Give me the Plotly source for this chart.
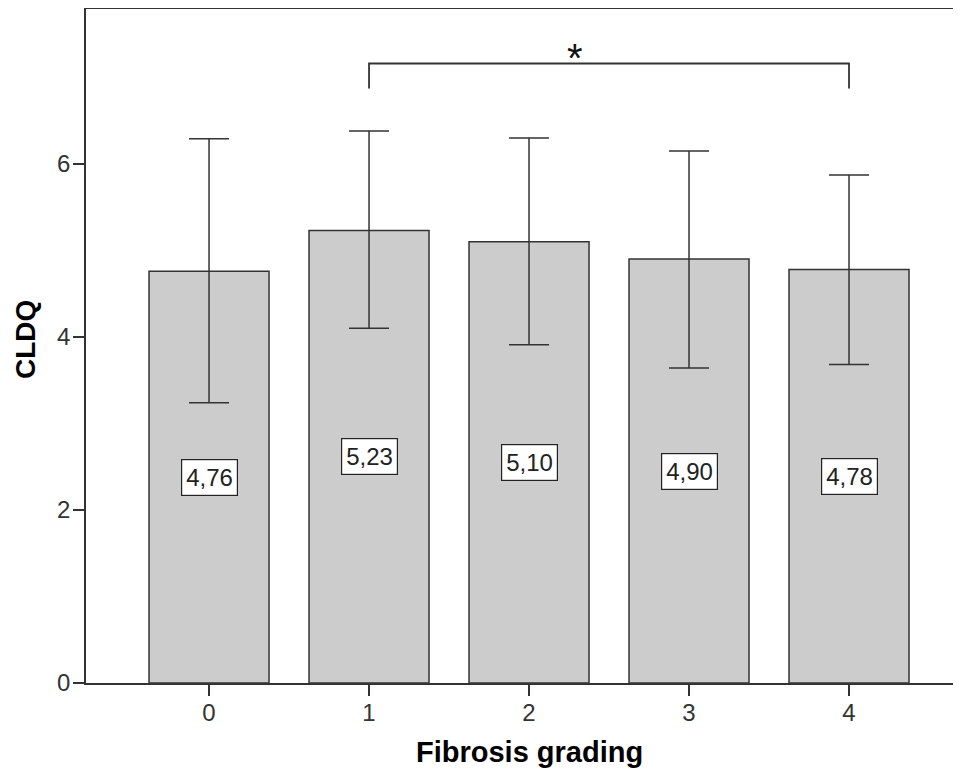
import plotly.graph_objects as go

# Data
categories = [0, 1, 2, 3, 4]
means = [4.76, 5.23, 5.10, 4.90, 4.78]
err_upper = [6.29, 6.38, 6.30, 6.15, 5.87]
err_lower = [3.24, 4.10, 3.91, 3.64, 3.68]
value_labels = ["4,76", "5,23", "5,10", "4,90", "4,78"]
y_ticks = [0, 2, 4, 6]
sig_pair = (1, 4)
sig_label = "*"

# page has an 8px body margin, so the figure is shifted by 8px
OFF = 8
W, H = 961 - OFF, 779 - OFF
ML, MR, MT, MB = 86 - OFF, 0, 9 - OFF, 96
plot_w = W - ML - MR
plot_h = H - MT - MB

dark = "#333333"
font_family = "Arial, Liberation Sans, sans-serif"

fig = go.Figure()

fig.add_trace(go.Bar(
    x=categories,
    y=means,
    width=0.75,
    marker=dict(color="#cccccc", line=dict(color=dark, width=1.5)),
    error_y=dict(
        type="data",
        symmetric=False,
        array=[u - m for u, m in zip(err_upper, means)],
        arrayminus=[m - l for m, l in zip(means, err_lower)],
        color=dark,
        thickness=1.5,
        width=20,
    ),
    hoverinfo="skip",
    showlegend=False,
))

# significance bracket
b_top, b_bot = 7.16, 6.87
a, b = sig_pair
fig.add_trace(go.Scatter(
    x=[a, a, b, b],
    y=[b_bot, b_top, b_top, b_bot],
    mode="lines",
    line=dict(color=dark, width=1.8),
    hoverinfo="skip",
    showlegend=False,
))

annotations = []
for c, m, lab in zip(categories, means, value_labels):
    annotations.append(dict(
        x=c, y=m / 2, xref="x", yref="y",
        text=lab, showarrow=False,
        font=dict(family=font_family, size=24, color="#222222"),
        bgcolor="white", bordercolor="#222222", borderwidth=1.2, borderpad=4,
    ))

annotations.append(dict(
    x=a + (b - a) * 0.43, y=b_top, xref="x", yref="y",
    text=sig_label, showarrow=False, yanchor="bottom", yshift=-18,
    font=dict(family=font_family, size=40, color="#111111"),
))

# axis titles (positions given in page pixels of the reference)
annotations.append(dict(
    x=(25 - 86) / plot_w, y=(683 - 340) / plot_h, xref="paper", yref="paper",
    text="<b>CLDQ</b>", showarrow=False, textangle=-90,
    xanchor="center", yanchor="middle",
    font=dict(family=font_family, size=28, color="black"),
))
annotations.append(dict(
    x=(529 - 86) / plot_w, y=(683 - 752) / plot_h, xref="paper", yref="paper",
    text="<b>Fibrosis grading</b>", showarrow=False,
    xanchor="center", yanchor="middle",
    font=dict(family=font_family, size=29, color="black"),
))

fig.update_layout(
    width=W, height=H,
    margin=dict(l=ML, r=MR, t=MT, b=MB, pad=0),
    paper_bgcolor="white", plot_bgcolor="white",
    annotations=annotations,
    xaxis=dict(
        range=[-0.769, 4.7],
        tickmode="array", tickvals=categories, ticktext=[str(c) for c in categories],
        ticks="outside", ticklen=11, tickwidth=1.5, tickcolor=dark,
        showline=True, linecolor=dark, linewidth=1.5, mirror=True,
        showgrid=False, zeroline=False,
        tickfont=dict(family=font_family, size=24, color="#333333"),
        ticklabelstandoff=-4,
        fixedrange=True,
    ),
    yaxis=dict(
        range=[0, 7.79],
        tickmode="array", tickvals=y_ticks, ticktext=[str(t) for t in y_ticks],
        ticks="outside", ticklen=11, tickwidth=1.5, tickcolor=dark,
        showline=True, linecolor=dark, linewidth=1.5,
        showgrid=False, zeroline=False,
        tickfont=dict(family=font_family, size=24, color="#333333"),
        ticklabelstandoff=-2,
        fixedrange=True,
    ),
    bargap=0.25,
)

fig.write_html("out.html")
